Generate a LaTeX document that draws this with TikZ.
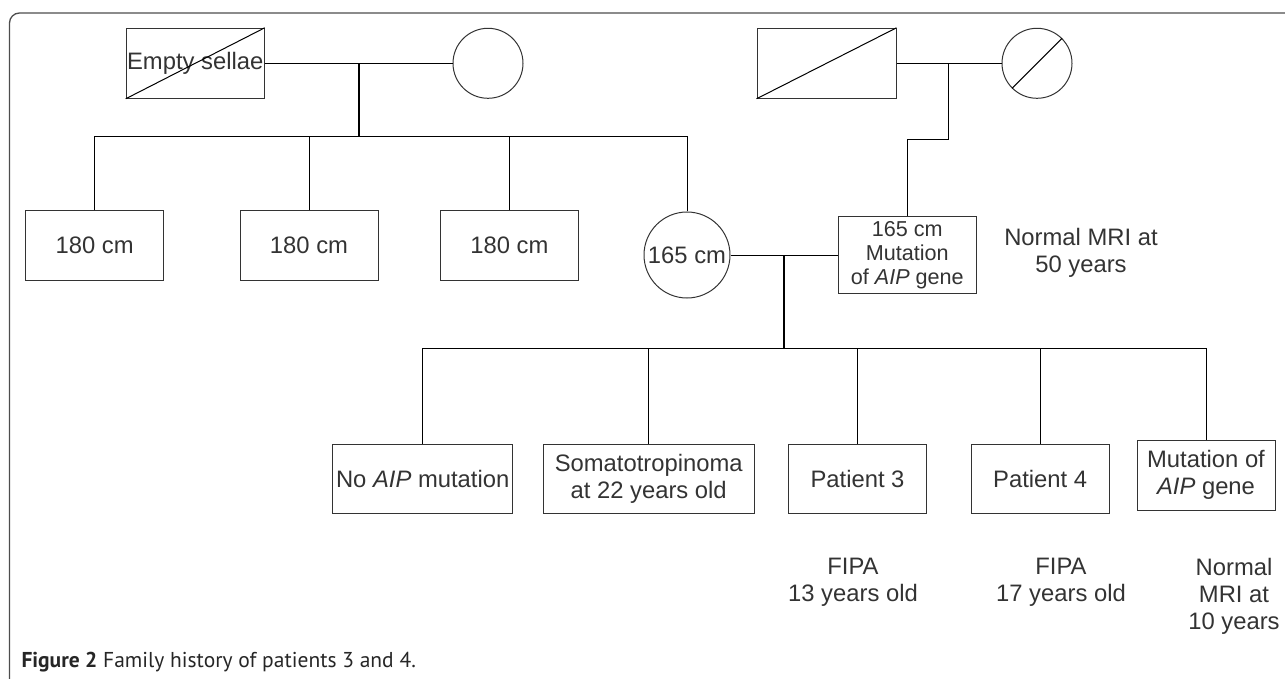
\documentclass[tikz,border=0pt]{standalone}
\usepackage{fontspec}
\setmainfont{Liberation Sans}
\newfontfamily\capfont{PT Sans}
\definecolor{txt}{HTML}{333333}
\definecolor{frm}{HTML}{4D4D4D}

\begin{document}
\begin{tikzpicture}[x=1pt,y=-1pt,line width=1pt,
	every node/.style={font=\fontsize{23.8}{27}\selectfont,text=txt,align=center,inner sep=0pt},
	box/.style={draw=txt,rectangle,minimum width=138,minimum height=70},
	circ/.style={draw=txt,circle,minimum size=70},
	drop/.style={line width=2pt}]
	\clip (0,0) rectangle (1285,679);
	\draw[frm,line width=1.3pt,rounded corners=10pt] (9.5,13) rectangle (1300,692);
	% grandparents
	\node[box] (es) at (195.2,63.3) {Empty sellae};
	\node[circ] (gm1) at (488,63.3) {};
	\node[box,minimum width=139] (gf2) at (826.5,63.3) {};
	\node[circ] (gm2) at (1037,63.3) {};
	\draw (es.south west) -- (es.north east);
	\draw (gf2.south west) -- (gf2.north east);
	\draw (gm2.225) -- (gm2.45);
	\draw (es) -- (gm1);
	\draw (gf2) -- (gm2);
	\coordinate (c1) at (359,63.3);
	\coordinate (s1) at (359,137);
	\draw[drop] (c1) -- (s1);
	% parents generation
	\node[box,minimum height=69] (b1) at (94.6,245.5) {180 cm};
	\node[box,minimum height=69] (b2) at (309,245.5) {180 cm};
	\node[box,minimum height=69] (b3) at (509.4,245.5) {180 cm};
	\node[circ,minimum size=86] (mo) at (687,255) {165 cm};
	\foreach \n in {b1,b2,b3,mo}\draw (\n.north) |- (s1);
	\node[box,minimum height=76,font=\fontsize{21.6}{24}\selectfont] (fa) at (907.3,255) {165 cm\\Mutation\\of \textit{AIP} gene};
	\coordinate (c2) at (948,63.3);
	\coordinate (k2) at (948,140);
	\draw (c2) -- (k2) -| (fa.north);
	\node (mri1) at (1081,253) {Normal MRI at\\50 years};
	\draw (mo) -- (fa);
	\coordinate (c3) at (784,255);
	\coordinate (s3) at (784,348.5);
	\draw[drop] (c3) -- (s3);
	% children
	\node[box,minimum width=180,minimum height=69] (g1) at (422.7,478.8) {No \textit{AIP} mutation};
	\node[box,minimum width=210.7,minimum height=69] (g2) at (648.7,478.8) {Somatotropinoma\\at 22 years old};
	\node[box,minimum height=69] (g3) at (857.5,478.8) {Patient 3};
	\node[box,minimum height=69] (g4) at (1040.2,478.8) {Patient 4};
	\node[box] (g5) at (1206,475) {Mutation of\\\textit{AIP} gene};
	\foreach \n in {g1,g2,g3,g4,g5}\draw (\n.north) |- (s3);
	\node (n3) at (853,582.5) {FIPA\\13 years old};
	\node (n4) at (1061,582.5) {FIPA\\17 years old};
	\node (n5) at (1234,596) {Normal\\MRI at\\10 years};
	\node[anchor=base west,font=\capfont\fontsize{21.5}{24}\selectfont,text=black!85] (cap) at (21,667) {\textbf{Figure 2} Family history of patients 3 and 4.};
\end{tikzpicture}
\end{document}
